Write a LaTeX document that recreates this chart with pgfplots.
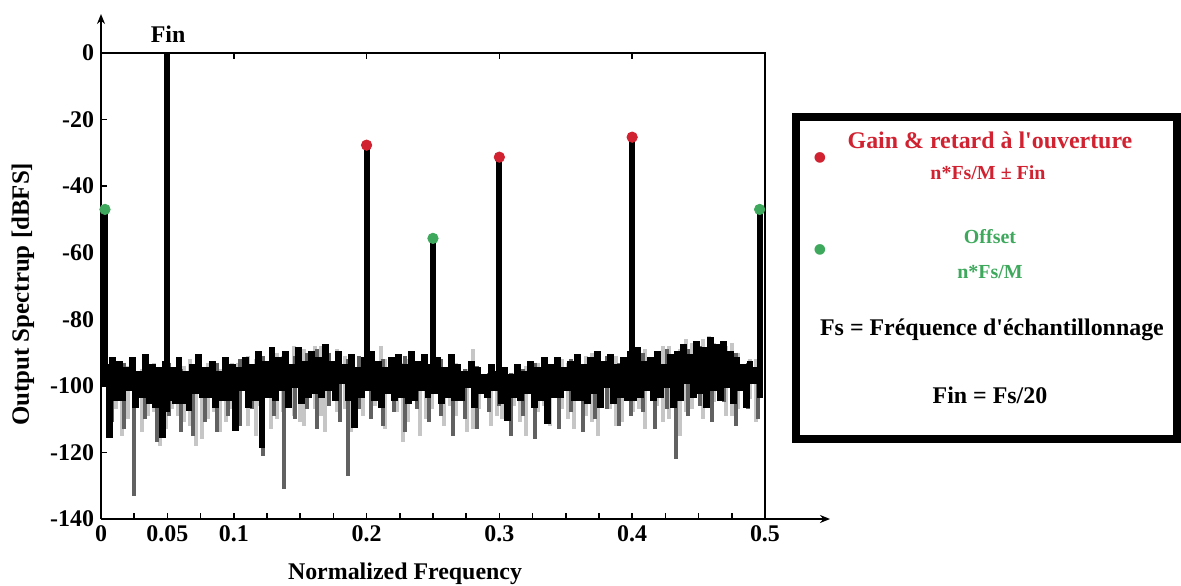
\documentclass[border=0pt]{standalone}
\usepackage{pgfplots}
\pgfplotsset{compat=1.18}
\usetikzlibrary{arrows.meta}
\usepackage{fontspec}
\setmainfont{Liberation Serif}[Ligatures=TeXOff]
\newfontfamily\dejavu{DejaVu Sans}
\definecolor{myred}{RGB}{208,34,48}
\definecolor{mygreen}{RGB}{62,168,92}
\begin{document}
\begin{tikzpicture}
\useasboundingbox (0,0) rectangle (590.5bp,-293bp);
\begin{axis}[
  at={(50.5bp,-259.5bp)}, anchor=south west,
  scale only axis, width=364.5bp, height=252.5bp,
  xmin=0, xmax=0.549, ymin=-140, ymax=11.7,
  axis lines=left,
  axis line style={line width=0.8bp, -{Stealth[length=5bp,width=4bp]}},
  clip=false,
  tick align=inside, major tick length=3bp, minor tick length=3bp,
  tick style={line width=0.8bp, black},
  xtick={0,0.05,0.1,0.2,0.3,0.4,0.5},
  xticklabels={0,0.05,0.1,0.2,0.3,0.4,0.5},
  minor xtick={0.025,0.075,0.125,0.15,0.175,0.225,0.25,0.275,0.325,0.35,0.375,0.425,0.45,0.475},
  ytick={-140,-120,-100,-80,-60,-40,-20,0},
  yticklabels={-140,-120,-100,-80,-60,-40,-20,0},
  tick label style={font=\fontsize{12}{14}\selectfont\bfseries},
  xlabel={Normalized Frequency},
  ylabel={Output Spectrup [dBFS]},
  xlabel style={at={(axis description cs:0.417,-0.109)}, anchor=center, font=\fontsize{12}{14}\selectfont\bfseries},
  ylabel style={at={(axis description cs:-0.107,0.445)}, anchor=center, font=\fontsize{12.5}{14}\selectfont\bfseries},
  unbounded coords=jump,
]
% light gray noise layer (vertical bins)
\addplot[no marks, gray!45, line width=2bp] coordinates {
(0.011,-96)(0.011,-107)(0.011,nan)(0.02,-94)(0.02,-110)(0.02,nan)(0.031,-95)(0.031,-114)(0.031,nan)(0.04,-93)(0.04,-108)(0.04,nan)
(0.049,-96)(0.049,-113)(0.049,nan)(0.058,-94)(0.058,-109)(0.058,nan)(0.067,-92)(0.067,-112)(0.067,nan)(0.076,-95)(0.076,-116)(0.076,nan)
(0.085,-93)(0.085,-108)(0.085,nan)(0.094,-96)(0.094,-111)(0.094,nan)(0.103,-93)(0.103,-107)(0.103,nan)(0.111,-91)(0.111,-112)(0.111,nan)
(0.12,-92)(0.12,-106)(0.12,nan)(0.128,-90)(0.128,-113)(0.128,nan)(0.137,-91)(0.137,-108)(0.137,nan)(0.145,-88)(0.145,-109)(0.145,nan)
(0.153,-89)(0.153,-112)(0.153,nan)(0.161,-88)(0.161,-107)(0.161,nan)(0.169,-90)(0.169,-114)(0.169,nan)(0.178,-89)(0.178,-108)(0.178,nan)
(0.188,-91)(0.188,-114)(0.188,nan)(0.197,-92)(0.197,-109)(0.197,nan)(0.206,-94)(0.206,-106)(0.206,nan)(0.214,-92)(0.214,-113)(0.214,nan)
(0.223,-93)(0.223,-108)(0.223,nan)(0.231,-92)(0.231,-111)(0.231,nan)(0.24,-94)(0.24,-115)(0.24,nan)(0.249,-93)(0.249,-107)(0.249,nan)
(0.258,-95)(0.258,-112)(0.258,nan)(0.267,-93)(0.267,-109)(0.267,nan)(0.276,-95)(0.276,-114)(0.276,nan)(0.285,-96)(0.285,-107)(0.285,nan)
(0.294,-95)(0.294,-112)(0.294,nan)(0.302,-97)(0.302,-110)(0.302,nan)(0.311,-96)(0.311,-106)(0.311,nan)(0.32,-94)(0.32,-115)(0.32,nan)
(0.329,-93)(0.329,-108)(0.329,nan)(0.338,-94)(0.338,-112)(0.338,nan)(0.347,-92)(0.347,-107)(0.347,nan)(0.356,-93)(0.356,-113)(0.356,nan)
(0.365,-91)(0.365,-109)(0.365,nan)(0.374,-90)(0.374,-115)(0.374,nan)(0.383,-91)(0.383,-107)(0.383,nan)(0.392,-92)(0.392,-111)(0.392,nan)
(0.401,-90)(0.401,-108)(0.401,nan)(0.41,-89)(0.41,-113)(0.41,nan)(0.419,-90)(0.419,-106)(0.419,nan)(0.428,-88)(0.428,-110)(0.428,nan)
(0.436,-89)(0.436,-115)(0.436,nan)(0.445,-87)(0.445,-107)(0.445,nan)(0.453,-86)(0.453,-110)(0.453,nan)(0.462,-87)(0.462,-105)(0.462,nan)
(0.471,-88)(0.471,-109)(0.471,nan)(0.48,-90)(0.48,-107)(0.48,nan)(0.489,-92)(0.489,-104)(0.489,nan)(0.497,-94)(0.497,-103)(0.497,nan)
(0.0065,-95)(0.0065,-106)(0.0065,nan)(0.0155,-96)(0.0155,-115)(0.0155,nan)(0.0355,-94)(0.0355,-109)(0.0355,nan)(0.0445,-95)(0.0445,-118)(0.0445,nan)
(0.0535,-96)(0.0535,-107)(0.0535,nan)(0.0625,-94)(0.0625,-111)(0.0625,nan)(0.0715,-95)(0.0715,-118)(0.0715,nan)(0.0805,-93)(0.0805,-110)(0.0805,nan)
(0.0895,-95)(0.0895,-114)(0.0895,nan)(0.0985,-93)(0.0985,-107)(0.0985,nan)(0.1165,-92)(0.1165,-115)(0.1165,nan)(0.1325,-90)(0.1325,-110)(0.1325,nan)
(0.1495,-89)(0.1495,-111)(0.1495,nan)(0.1655,-88)(0.1655,-109)(0.1655,nan)(0.1835,-91)(0.1835,-107)(0.1835,nan)(0.2105,-88)(0.2105,-104)(0.2105,nan)
(0.2275,-93)(0.2275,-117)(0.2275,nan)(0.2445,-92)(0.2445,-110)(0.2445,nan)(0.2625,-94)(0.2625,-106)(0.2625,nan)(0.2805,-89)(0.2805,-113)(0.2805,nan)
(0.2985,-96)(0.2985,-109)(0.2985,nan)(0.3155,-95)(0.3155,-111)(0.3155,nan)(0.3335,-92)(0.3335,-106)(0.3335,nan)(0.3515,-93)(0.3515,-110)(0.3515,nan)
(0.3695,-90)(0.3695,-111)(0.3695,nan)(0.3875,-91)(0.3875,-112)(0.3875,nan)(0.4055,-89)(0.4055,-107)(0.4055,nan)(0.4235,-88)(0.4235,-111)(0.4235,nan)
(0.4405,-86)(0.4405,-108)(0.4405,nan)(0.4575,-85)(0.4575,-106)(0.4575,nan)(0.4755,-87)(0.4755,-109)(0.4755,nan)(0.4935,-92)(0.4935,-111)
};
% dark gray noise layer (vertical bins)
\addplot[no marks, black!62, line width=2bp] coordinates {
(0.008,-95)(0.008,-111)(0.008,nan)(0.017,-93)(0.017,-113)(0.017,nan)(0.025,-95)(0.025,-133)(0.025,nan)(0.033,-94)(0.033,-110)(0.033,nan)
(0.042,-96)(0.042,-117)(0.042,nan)(0.051,-93)(0.051,-109)(0.051,nan)(0.06,-95)(0.06,-114)(0.06,nan)(0.069,-94)(0.069,-115)(0.069,nan)
(0.078,-96)(0.078,-111)(0.078,nan)(0.087,-93)(0.087,-114)(0.087,nan)(0.096,-95)(0.096,-109)(0.096,nan)(0.105,-92)(0.105,-112)(0.105,nan)
(0.114,-95)(0.114,-107)(0.114,nan)(0.122,-91)(0.122,-121)(0.122,nan)(0.13,-93)(0.13,-109)(0.13,nan)(0.138,-92)(0.138,-131)(0.138,nan)
(0.146,-91)(0.146,-110)(0.146,nan)(0.155,-90)(0.155,-107)(0.155,nan)(0.163,-89)(0.163,-113)(0.163,nan)(0.172,-90)(0.172,-106)(0.172,nan)
(0.18,-91)(0.18,-111)(0.18,nan)(0.186,-92)(0.186,-127)(0.186,nan)(0.194,-91)(0.194,-107)(0.194,nan)(0.203,-93)(0.203,-110)(0.203,nan)
(0.212,-92)(0.212,-112)(0.212,nan)(0.221,-94)(0.221,-108)(0.221,nan)(0.229,-91)(0.229,-114)(0.229,nan)(0.238,-93)(0.238,-107)(0.238,nan)
(0.247,-95)(0.247,-111)(0.247,nan)(0.256,-92)(0.256,-109)(0.256,nan)(0.265,-94)(0.265,-115)(0.265,nan)(0.274,-95)(0.274,-110)(0.274,nan)
(0.283,-94)(0.283,-113)(0.283,nan)(0.292,-96)(0.292,-108)(0.292,nan)(0.3,-94)(0.3,-106)(0.3,nan)(0.309,-96)(0.309,-115)(0.309,nan)
(0.318,-95)(0.318,-109)(0.318,nan)(0.327,-93)(0.327,-116)(0.327,nan)(0.336,-94)(0.336,-111)(0.336,nan)(0.345,-93)(0.345,-113)(0.345,nan)
(0.354,-92)(0.354,-108)(0.354,nan)(0.363,-94)(0.363,-114)(0.363,nan)(0.372,-92)(0.372,-110)(0.372,nan)(0.381,-91)(0.381,-107)(0.381,nan)
(0.39,-93)(0.39,-112)(0.39,nan)(0.399,-91)(0.399,-109)(0.399,nan)(0.408,-90)(0.408,-108)(0.408,nan)(0.417,-92)(0.417,-113)(0.417,nan)
(0.426,-89)(0.426,-107)(0.426,nan)(0.433,-91)(0.433,-122)(0.433,nan)(0.442,-89)(0.442,-109)(0.442,nan)(0.451,-88)(0.451,-106)(0.451,nan)
(0.46,-87)(0.46,-111)(0.46,nan)(0.469,-88)(0.469,-105)(0.469,nan)(0.478,-90)(0.478,-112)(0.478,nan)(0.487,-93)(0.487,-107)(0.487,nan)
(0.495,-95)(0.495,-110)
};
% black noise layer
\addplot[no marks, const plot, black, line width=1.8bp] coordinates {
(0.0025,-94)(0.005,-115)(0.0075,-92)(0.010,-104)(0.0125,-93)(0.015,-104)(0.0175,-95)(0.020,-101)(0.0225,-92)(0.025,-106)(0.0275,-96)(0.030,-103)(0.0325,-91)(0.035,-105)(0.0375,-94)(0.040,-106)(0.0425,-95)(0.045,-115)(0.0475,-93)(0.050,-104)(0.0525,-95)(0.055,-105)(0.0575,-92)(0.060,-105)(0.0625,-96)(0.065,-107)(0.0675,-94)(0.070,-102)(0.0725,-91)(0.075,-103)(0.0775,-95)(0.080,-103)(0.0825,-93)(0.085,-106)(0.0875,-96)(0.090,-104)(0.0925,-92)(0.095,-104)(0.0975,-94)(0.100,-113)
(0.1025,-95)(0.105,-101)(0.1075,-92)(0.110,-106)(0.1125,-94)(0.115,-104)(0.1175,-90)(0.120,-118)(0.1225,-93)(0.125,-103)(0.1275,-89)(0.130,-104)(0.1325,-92)(0.135,-101)(0.1375,-90)(0.140,-106)(0.1425,-94)(0.145,-100)(0.1475,-89)(0.150,-105)(0.1525,-93)(0.155,-103)(0.1575,-90)(0.160,-102)(0.1625,-92)(0.165,-103)(0.1675,-88)(0.170,-101)(0.1725,-93)(0.175,-104)(0.1775,-90)(0.180,-99)(0.1825,-94)(0.185,-104)(0.1875,-91)(0.190,-112)(0.1925,-95)(0.195,-103)(0.1975,-92)(0.200,-101)
(0.2025,-90)(0.205,-104)(0.2075,-93)(0.210,-106)(0.2125,-95)(0.215,-102)(0.2175,-92)(0.220,-104)(0.2225,-91)(0.225,-103)(0.2275,-94)(0.230,-105)(0.2325,-90)(0.235,-104)(0.2375,-93)(0.240,-101)(0.2425,-91)(0.245,-103)(0.2475,-94)(0.250,-102)(0.2525,-92)(0.255,-105)(0.2575,-95)(0.260,-103)(0.2625,-91)(0.265,-104)(0.2675,-94)(0.270,-104)(0.2725,-96)(0.275,-100)(0.2775,-93)(0.280,-106)(0.2825,-95)(0.285,-102)(0.2875,-97)(0.290,-103)(0.2925,-94)(0.295,-101)(0.2975,-96)(0.300,-105)
(0.3025,-95)(0.305,-110)(0.3075,-97)(0.310,-103)(0.3125,-94)(0.315,-104)(0.3175,-96)(0.320,-102)(0.3225,-93)(0.325,-106)(0.3275,-95)(0.330,-104)(0.3325,-92)(0.335,-111)(0.3375,-94)(0.340,-103)(0.3425,-92)(0.345,-103)(0.3475,-95)(0.350,-101)(0.3525,-93)(0.355,-104)(0.3575,-91)(0.360,-104)(0.3625,-94)(0.365,-105)(0.3675,-92)(0.370,-102)(0.3725,-90)(0.375,-106)(0.3775,-93)(0.380,-100)(0.3825,-91)(0.385,-105)(0.3875,-94)(0.390,-103)(0.3925,-92)(0.395,-104)(0.3975,-90)(0.400,-104)
(0.4025,-89)(0.405,-103)(0.4075,-93)(0.410,-101)(0.4125,-92)(0.415,-104)(0.4175,-90)(0.420,-103)(0.4225,-94)(0.425,-100)(0.4275,-91)(0.430,-106)(0.4325,-90)(0.435,-104)(0.4375,-88)(0.440,-99)(0.4425,-91)(0.445,-103)(0.4475,-87)(0.450,-102)(0.4525,-89)(0.455,-106)(0.4575,-86)(0.460,-101)(0.4625,-88)(0.465,-104)(0.4675,-87)(0.470,-100)(0.4725,-90)(0.475,-105)(0.4775,-92)(0.480,-101)(0.4825,-94)(0.485,-106)(0.4875,-93)(0.490,-99)(0.4925,-95)(0.495,-103)(0.4975,-94)
};
% tone stems
\addplot[no marks, black, line width=3bp] coordinates {
(0.003,-100)(0.003,-47)(0.003,nan)
(0.05,-108)(0.05,0)(0.05,nan)
(0.2,-100)(0.2,-27.7)(0.2,nan)
(0.25,-100)(0.25,-55.7)(0.25,nan)
(0.3,-100)(0.3,-31.3)(0.3,nan)
(0.4,-100)(0.4,-25.3)(0.4,nan)
(0.496,-100)(0.496,-47)
};
% tone markers
\addplot[only marks, mark=*, mark size=2.6bp, myred, mark options={draw=myred, fill=myred}] coordinates {(0.2,-27.7)(0.3,-31.3)(0.4,-25.3)};
\addplot[only marks, mark=*, mark size=2.6bp, mygreen, mark options={draw=mygreen, fill=mygreen}] coordinates {(0.003,-47)(0.25,-55.7)(0.496,-47)};
% plot frame (top and right)
\draw[line width=0.8bp] (axis cs:0,0) -- (axis cs:0.5,0) -- (axis cs:0.5,-140);
\draw[line width=0.8bp] (axis cs:0.1,0) -- ([yshift=-3bp]axis cs:0.1,0);
\draw[line width=0.8bp] (axis cs:0.2,0) -- ([yshift=-3bp]axis cs:0.2,0);
\draw[line width=0.8bp] (axis cs:0.3,0) -- ([yshift=-3bp]axis cs:0.3,0);
\draw[line width=0.8bp] (axis cs:0.4,0) -- ([yshift=-3bp]axis cs:0.4,0);
\node[font=\fontsize{12}{14}\selectfont\bfseries] at (axis cs:0.0505,5.5) {Fin};
\end{axis}
\begin{scope}[x=0.5bp,y=-0.5bp]
\draw[line width=4bp] (796,117) rectangle (1177,439);
\node[text=myred, font=\dejavu\fontsize{7}{7}\selectfont] at (820,158) {●};
\node[text=mygreen, font=\dejavu\fontsize{7}{7}\selectfont] at (820,250) {●};
\node[text=myred, font=\fontsize{12}{14}\selectfont\bfseries] at (990,140) {Gain \& retard à l'ouverture};
\node[text=myred, font=\fontsize{10}{12}\selectfont\bfseries] at (988,173) {n*Fs/M ± Fin};
\node[text=mygreen, font=\fontsize{10}{12}\selectfont\bfseries] at (990,237) {Offset};
\node[text=mygreen, font=\fontsize{10}{12}\selectfont\bfseries] at (990,272) {n*Fs/M};
\node[font=\fontsize{12}{14}\selectfont\bfseries] at (992,330) {Fs = Fréquence d'échantillonnage};
\node[font=\fontsize{12}{14}\selectfont\bfseries] at (990,395) {Fin = Fs/20};
\end{scope}
\end{tikzpicture}
\end{document}
